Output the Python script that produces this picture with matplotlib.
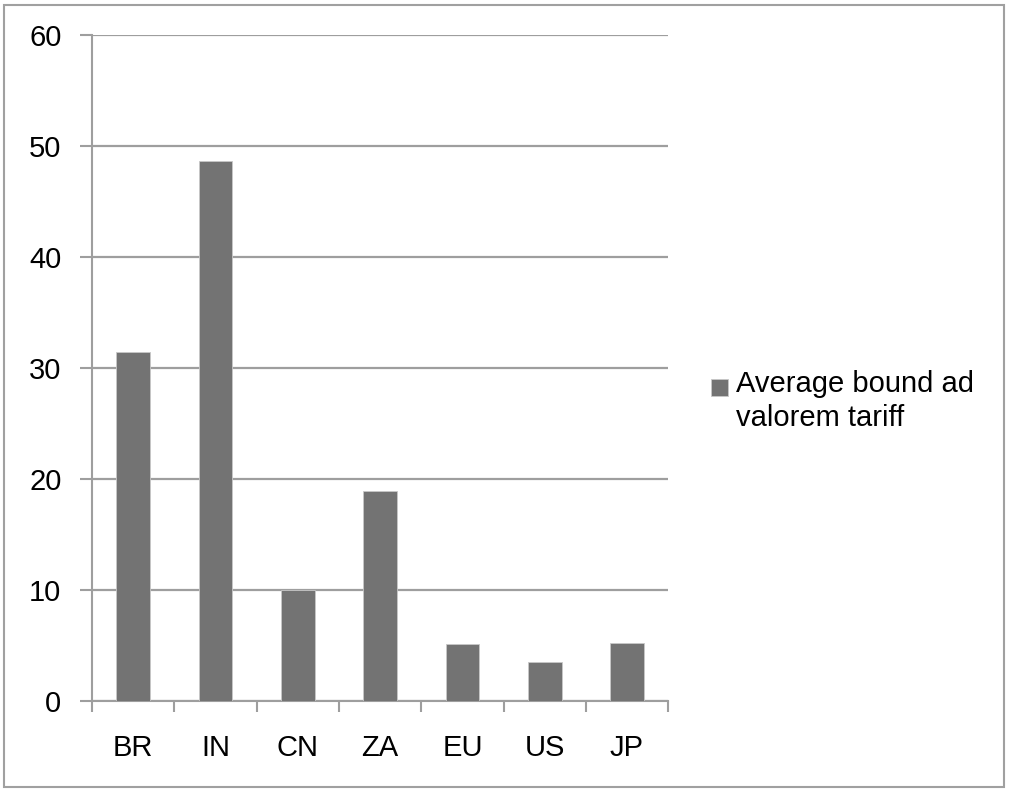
import matplotlib.pyplot as plt
from matplotlib.patches import Rectangle

countries = ['BR', 'IN', 'CN', 'ZA', 'EU', 'US', 'JP']
tariff = [31.4, 48.6, 10.0, 18.9, 5.1, 3.5, 5.2]
series_label = 'Average bound ad\nvalorem tariff'

plt.rcParams['font.family'] = ['Liberation Sans', 'DejaVu Sans']

fig = plt.figure(figsize=(10.09, 7.92), dpi=100)
ax = fig.add_axes([0.0912, 0.115, 0.571, 0.841])

grey = '#9e9e9e'
x = range(len(countries))
ax.bar(x, tariff, width=0.41, color='#737373', edgecolor='#c8c8c8', linewidth=0.6, zorder=3)

ax.set_xlim(-0.5, len(countries) - 0.5)
ax.set_ylim(0, 60)
ax.set_yticks(range(0, 61, 10))
ax.yaxis.grid(True, color=grey, linewidth=1.6, zorder=0)
ax.set_axisbelow(True)

ax.set_xticks(list(x))
ax.set_xticklabels(countries, fontsize=21)
ax.set_xticks([i - 0.5 for i in range(len(countries) + 1)], minor=True)
ax.tick_params(axis='x', which='major', length=0, pad=24)
ax.tick_params(axis='x', which='minor', length=8, width=1.5, color=grey)
ax.tick_params(axis='y', length=9, width=1.5, color=grey, labelsize=21, pad=13)

for s in ['top', 'right']:
    ax.spines[s].set_visible(False)
for s in ['left', 'bottom']:
    ax.spines[s].set_color(grey)
    ax.spines[s].set_linewidth(1.5)

# legend drawn by hand so the marker sits beside the first line
fig.patches.append(Rectangle((711 / 1009, 1 - 396 / 792), 17 / 1009, 17 / 792,
                             transform=fig.transFigure, facecolor='#737373',
                             edgecolor='#c8c8c8', linewidth=0.6))
fig.text(736 / 1009, 1 - 370 / 792, series_label, fontsize=21, va='top',
         linespacing=1.28)

# outer frame
fig.patches.append(Rectangle((4 / 1009, 5 / 792), 1000 / 1009, 782 / 792,
                             transform=fig.transFigure, fill=False,
                             edgecolor='#a0a0a0', linewidth=1.5))

fig.savefig('out.png', dpi=100)
